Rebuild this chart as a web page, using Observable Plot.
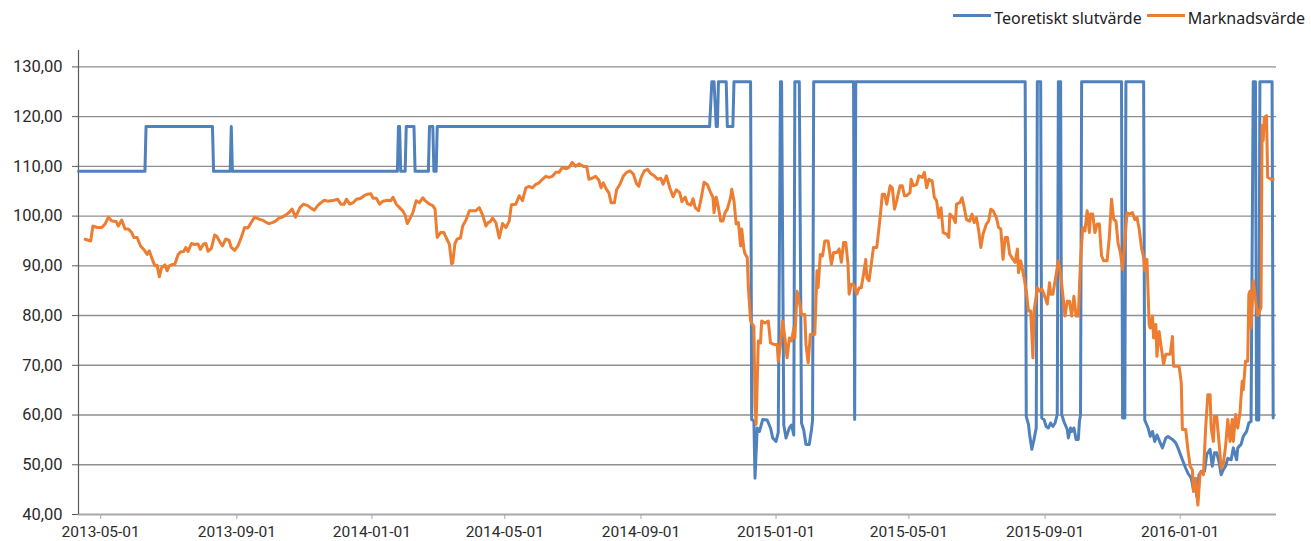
<!DOCTYPE html>
<html>
<head>
<meta charset="utf-8">
<script src="https://cdn.jsdelivr.net/npm/d3@7"></script>
<script src="https://cdn.jsdelivr.net/npm/@observablehq/plot@0.6"></script>
<style>
  html, body { margin: 0; padding: 0; background: #fff; }
  #wrap { width: 1311px; height: 541px; position: relative; overflow: hidden; }
  #legend { height: 30px; display: flex; justify-content: flex-end; align-items: center; padding-right: 6px;
            font-family: "Noto Sans", "Open Sans", sans-serif; font-size: 16px; color: #222; box-sizing: border-box; padding-top: 6px; }
  .sw { display: inline-block; width: 38px; height: 3px; margin-right: 3px; position: relative; top: -3px; }
  .item { display: flex; align-items: center; margin-left: 5px; white-space: nowrap; }
</style>
</head>
<body>
<div id="wrap">
  <div id="legend"></div>
  <div id="chart"></div>
</div>
<script>
const seriesNames = ["Teoretiskt slutvärde", "Marknadsvärde"];
const seriesColors = ["#4f81bd", "#ed7d31"];
const xTickDates = ["2013-05-01","2013-09-01","2014-01-01","2014-05-01","2014-09-01","2015-01-01","2015-05-01","2015-09-01","2016-01-01"];
const yTicks = [40, 50, 60, 70, 80, 90, 100, 110, 120, 130];
const xDomain = ["2013-04-11", "2016-03-28"];
const yDomain = [40, 133.3];

const teoretisktSlutvarde = [
["2013-04-11",109],["2013-06-10",109],["2013-06-11",118],["2013-08-10",118],["2013-08-11",109],["2013-08-26",109],["2013-08-27",118],["2013-08-28",109],
["2014-01-24",109],["2014-01-25",118],["2014-01-26",118],["2014-01-27",109],["2014-01-31",109],["2014-02-01",118],["2014-02-08",118],["2014-02-09",109],
["2014-02-21",109],["2014-02-22",118],["2014-02-25",118],["2014-02-26",109],["2014-02-28",109],["2014-03-01",118],
["2014-11-02",118],["2014-11-04",127],["2014-11-06",127],["2014-11-08",118],["2014-11-09",118],["2014-11-10",127],["2014-11-17",127],["2014-11-18",118],
["2014-11-23",118],["2014-11-24",127],["2014-12-09",127],["2014-12-10",59.1],["2014-12-12",58.8],["2014-12-13",47.3],["2014-12-15",57.4],["2014-12-17",56.7],
["2014-12-20",59.1],["2014-12-24",59.0],["2014-12-27",57.4],["2014-12-29",55.4],["2015-01-01",54.7],["2015-01-03",56.5],["2015-01-05",127],["2015-01-06",127],
["2015-01-08",58],["2015-01-10",55.4],["2015-01-13",57.4],["2015-01-15",58],["2015-01-17",56],["2015-01-18",127],["2015-01-22",127],["2015-01-24",58.4],
["2015-01-26",57],["2015-01-28",54.1],["2015-01-31",54.1],["2015-02-02",57],["2015-02-03",59],["2015-02-04",127],["2015-03-12",127],["2015-03-13",59.1],
["2015-03-14",127],["2015-08-14",127],["2015-08-15",59.7],["2015-08-17",58.1],["2015-08-18",56.1],["2015-08-20",53.1],["2015-08-22",55.1],["2015-08-24",57.4],
["2015-08-25",127],["2015-08-28",127],["2015-08-29",59.4],["2015-08-31",59.1],["2015-09-02",57.7],["2015-09-04",57.4],["2015-09-06",58.4],["2015-09-08",57.7],
["2015-09-10",58.4],["2015-09-12",60.1],["2015-09-13",127],["2015-09-15",127],["2015-09-16",60.1],["2015-09-18",58.7],["2015-09-21",57.1],["2015-09-22",55.4],
["2015-09-24",57.4],["2015-09-25",56.7],["2015-09-27",57.4],["2015-09-29",55.1],["2015-10-01",55.1],["2015-10-02",58.7],["2015-10-03",60],["2015-10-04",127],
["2015-11-09",127],["2015-11-10",59.4],["2015-11-12",59.4],["2015-11-13",127],["2015-11-29",127],["2015-11-30",59],["2015-12-03",57.4],["2015-12-05",55.7],
["2015-12-07",56.7],["2015-12-09",54.7],["2015-12-11",56],["2015-12-14",54.4],["2015-12-16",53.4],["2015-12-19",55.4],["2015-12-21",55.7],["2015-12-25",55.1],
["2015-12-28",54.4],["2015-12-30",53.4],["2016-01-03",51],["2016-01-06",49.3],["2016-01-08",48.3],["2016-01-11",47.3],["2016-01-13",45],["2016-01-15",46],
["2016-01-16",43.6],["2016-01-18",48],["2016-01-20",48.7],["2016-01-23",48.7],["2016-01-25",52.1],["2016-01-28",53.1],["2016-01-30",49.7],["2016-02-01",52.4],
["2016-02-03",52.4],["2016-02-05",50.7],["2016-02-07",48],["2016-02-09",49],["2016-02-11",49.7],["2016-02-13",51.3],["2016-02-16",51],["2016-02-18",53.4],
["2016-02-21",51],["2016-02-22",53.4],["2016-02-25",54.1],["2016-02-27",55.7],["2016-03-01",56.7],["2016-03-03",58.4],["2016-03-05",58.7],["2016-03-07",127],
["2016-03-09",127],["2016-03-10",59],["2016-03-12",59],["2016-03-13",127],["2016-03-24",127],["2016-03-25",59.4]
];

const marknadsvarde = [
["2013-04-17",95.35],["2013-04-22",95.0],["2013-04-24",98.0],["2013-04-28",97.7],["2013-05-02",97.7],["2013-05-05",98.4],["2013-05-08",99.8],["2013-05-11",99.0],
["2013-05-15",98.9],["2013-05-17",98.0],["2013-05-20",99.2],["2013-05-23",97.4],["2013-05-26",97.4],["2013-05-29",96.7],["2013-05-31",95.7],["2013-06-03",95.7],
["2013-06-06",94.0],["2013-06-09",93.3],["2013-06-12",92.3],["2013-06-14",93.0],["2013-06-16",91.7],["2013-06-19",90.0],["2013-06-21",90.1],["2013-06-23",87.8],
["2013-06-25",89.6],["2013-06-28",90.2],["2013-06-30",89.0],["2013-07-02",90.0],["2013-07-04",90.2],["2013-07-07",90.3],["2013-07-10",92.3],["2013-07-12",92.8],
["2013-07-15",92.9],["2013-07-17",93.7],["2013-07-19",92.9],["2013-07-22",94.5],["2013-07-25",94.3],["2013-07-28",94.4],["2013-07-30",93.3],["2013-08-02",94.4],
["2013-08-04",94.5],["2013-08-06",92.9],["2013-08-09",93.5],["2013-08-12",96.2],["2013-08-14",95.9],["2013-08-17",94.7],["2013-08-19",94.0],["2013-08-22",95.4],
["2013-08-25",95.1],["2013-08-27",93.7],["2013-08-30",93.1],["2013-09-02",94.0],["2013-09-05",95.7],["2013-09-08",97.7],["2013-09-11",97.6],["2013-09-14",98.7],
["2013-09-17",99.8],["2013-09-21",99.4],["2013-09-24",99.2],["2013-09-27",98.8],["2013-09-30",98.5],["2013-10-03",98.7],["2013-10-06",99.0],["2013-10-09",99.6],
["2013-10-12",99.8],["2013-10-15",100.2],["2013-10-18",100.7],["2013-10-21",101.4],["2013-10-24",99.8],["2013-10-28",101.7],["2013-10-31",102.4],["2013-11-04",102.1],
["2013-11-07",101.6],["2013-11-10",101.2],["2013-11-13",102.1],["2013-11-16",102.7],["2013-11-19",103.2],["2013-11-22",103.0],["2013-11-25",103.1],["2013-11-28",103.2],
["2013-12-01",103.4],["2013-12-04",102.4],["2013-12-07",102.4],["2013-12-09",103.4],["2013-12-12",102.4],["2013-12-15",102.7],["2013-12-18",103.4],["2013-12-22",103.6],
["2013-12-25",104.1],["2013-12-28",104.4],["2013-12-31",104.5],["2014-01-02",103.6],["2014-01-05",103.6],["2014-01-08",102.4],["2014-01-11",103.0],["2014-01-15",103.2],
["2014-01-18",103.1],["2014-01-20",103.8],["2014-01-23",102.4],["2014-01-26",101.7],["2014-01-29",101.0],["2014-01-31",100.2],["2014-02-02",98.5],["2014-02-05",99.8],
["2014-02-07",100.7],["2014-02-10",103.1],["2014-02-13",102.7],["2014-02-16",103.7],["2014-02-18",103.1],["2014-02-22",102.4],["2014-02-25",102.1],["2014-02-27",101.4],
["2014-03-01",95.7],["2014-03-04",96.7],["2014-03-07",96.7],["2014-03-09",95.7],["2014-03-12",94.3],["2014-03-14",90.4],["2014-03-15",90.6],["2014-03-17",94.5],
["2014-03-19",95.4],["2014-03-22",95.6],["2014-03-24",98.0],["2014-03-27",99.2],["2014-03-30",101.1],["2014-04-02",101.1],["2014-04-05",101.1],["2014-04-08",101.7],
["2014-04-11",100.2],["2014-04-14",98.0],["2014-04-16",98.7],["2014-04-18",98.9],["2014-04-20",99.6],["2014-04-23",98.7],["2014-04-26",95.6],["2014-04-29",98.5],
["2014-05-02",97.7],["2014-05-05",99.0],["2014-05-07",102.3],["2014-05-11",102.4],["2014-05-14",104.1],["2014-05-17",103.1],["2014-05-20",105.7],["2014-05-23",106.0],
["2014-05-26",105.7],["2014-05-29",106.4],["2014-06-01",106.7],["2014-06-04",107.4],["2014-06-07",108.0],["2014-06-10",107.8],["2014-06-13",108.0],["2014-06-16",108.8],
["2014-06-19",108.8],["2014-06-22",109.8],["2014-06-25",109.5],["2014-06-28",109.8],["2014-07-01",110.8],["2014-07-04",110.0],["2014-07-07",110.5],["2014-07-11",110.0],
["2014-07-14",110.0],["2014-07-16",107.4],["2014-07-19",107.6],["2014-07-22",108.0],["2014-07-25",107.2],["2014-07-27",105.7],["2014-07-29",106.7],["2014-08-01",105.3],
["2014-08-03",104.7],["2014-08-05",102.7],["2014-08-08",102.7],["2014-08-10",105.3],["2014-08-13",106.4],["2014-08-16",108.0],["2014-08-19",108.8],["2014-08-22",109.1],
["2014-08-25",108.5],["2014-08-28",106.5],["2014-08-30",106.0],["2014-09-01",107.7],["2014-09-04",109.1],["2014-09-07",109.4],["2014-09-10",108.5],["2014-09-13",108.1],
["2014-09-16",107.4],["2014-09-19",107.6],["2014-09-21",106.4],["2014-09-24",108.1],["2014-09-27",105.7],["2014-09-30",103.9],["2014-10-03",105.3],["2014-10-06",104.7],
["2014-10-08",102.9],["2014-10-11",103.8],["2014-10-13",102.5],["2014-10-16",102.2],["2014-10-18",103.5],["2014-10-20",101.7],["2014-10-23",101.1],["2014-10-25",103.1],
["2014-10-28",106.8],["2014-10-31",106.3],["2014-11-03",104.7],["2014-11-05",103.8],["2014-11-06",100.7],["2014-11-08",103.8],["2014-11-10",101.7],["2014-11-12",99.0],
["2014-11-14",99.0],["2014-11-16",100.7],["2014-11-18",101.4],["2014-11-21",103.8],["2014-11-22",105.4],["2014-11-24",103.1],["2014-11-26",98.4],["2014-11-28",98.7],
["2014-11-30",94.0],["2014-12-01",97.4],["2014-12-03",93.3],["2014-12-04",92.4],["2014-12-06",91.7],["2014-12-07",85.6],["2014-12-09",79.0],["2014-12-10",78.5],
["2014-12-12",77.8],["2014-12-13",62.0],["2014-12-14",58.1],["2014-12-16",74.9],["2014-12-18",74.5],["2014-12-19",78.9],["2014-12-22",78.5],["2014-12-25",78.9],
["2014-12-27",74.5],["2014-12-30",74.2],["2015-01-02",74.2],["2015-01-03",70.8],["2015-01-05",74.2],["2015-01-07",78.9],["2015-01-09",75.5],["2015-01-11",71.5],
["2015-01-13",75.5],["2015-01-15",74.9],["2015-01-17",77.5],["2015-01-18",75.5],["2015-01-20",84.9],["2015-01-22",82.9],["2015-01-24",80.2],["2015-01-27",80.2],
["2015-01-28",74.2],["2015-01-30",70.5],["2015-02-01",76.2],["2015-02-03",76.2],["2015-02-05",76.2],["2015-02-07",89.0],["2015-02-08",85.6],["2015-02-10",92.3],
["2015-02-12",92.0],["2015-02-14",95.0],["2015-02-17",95.0],["2015-02-20",90.3],["2015-02-22",92.7],["2015-02-25",92.7],["2015-02-27",93.4],["2015-03-01",90.7],
["2015-03-03",94.7],["2015-03-05",94.7],["2015-03-07",90.3],["2015-03-08",84.3],["2015-03-10",86.3],["2015-03-12",86.3],["2015-03-15",84.3],["2015-03-17",85.6],
["2015-03-19",85.6],["2015-03-21",88.3],["2015-03-23",91.3],["2015-03-24",87.6],["2015-03-26",87.0],["2015-03-28",90.3],["2015-03-30",93.7],["2015-04-02",93.7],
["2015-04-05",99.7],["2015-04-07",104.4],["2015-04-09",104.4],["2015-04-11",102.4],["2015-04-14",106.1],["2015-04-16",105.7],["2015-04-18",101.4],["2015-04-20",103.1],
["2015-04-23",106.1],["2015-04-25",106.1],["2015-04-27",104.1],["2015-04-29",104.1],["2015-05-02",104.7],["2015-05-03",107.4],["2015-05-05",106.1],["2015-05-08",106.4],
["2015-05-10",108.1],["2015-05-13",107.8],["2015-05-15",108.8],["2015-05-17",105.7],["2015-05-19",107.4],["2015-05-22",107.1],["2015-05-24",103.7],["2015-05-26",103.1],
["2015-05-28",99.7],["2015-05-30",101.7],["2015-06-01",96.7],["2015-06-04",96.4],["2015-06-06",95.7],["2015-06-07",100.4],["2015-06-10",99.7],["2015-06-12",98.7],
["2015-06-13",102.4],["2015-06-16",102.7],["2015-06-18",103.7],["2015-06-20",101.7],["2015-06-22",99.3],["2015-06-25",99.0],["2015-06-27",100.4],["2015-06-29",98.7],
["2015-07-01",99.7],["2015-07-03",97.1],["2015-07-05",93.7],["2015-07-07",96.4],["2015-07-10",98.4],["2015-07-12",99.0],["2015-07-14",101.4],["2015-07-16",101.1],
["2015-07-19",99.7],["2015-07-21",97.7],["2015-07-23",97.4],["2015-07-25",91.3],["2015-07-27",95.7],["2015-07-29",95.7],["2015-07-31",92.4],["2015-08-03",91.3],
["2015-08-05",90.7],["2015-08-07",93.4],["2015-08-08",88.6],["2015-08-10",91.0],["2015-08-13",87.6],["2015-08-15",84.9],["2015-08-17",80.9],["2015-08-19",80.9],
["2015-08-21",71.5],["2015-08-22",80.9],["2015-08-25",85.6],["2015-08-27",84.9],["2015-08-29",85.3],["2015-08-31",84.3],["2015-09-03",82.3],["2015-09-05",86.6],
["2015-09-06",84.3],["2015-09-08",84.3],["2015-09-11",88.3],["2015-09-13",91.0],["2015-09-15",88.3],["2015-09-17",84.3],["2015-09-19",79.9],["2015-09-21",82.9],
["2015-09-23",82.9],["2015-09-25",79.9],["2015-09-27",83.9],["2015-09-29",79.9],["2015-10-01",79.9],["2015-10-03",91.0],["2015-10-05",97.7],["2015-10-07",97.0],
["2015-10-09",101.1],["2015-10-11",96.7],["2015-10-12",100.4],["2015-10-14",100.4],["2015-10-16",96.7],["2015-10-18",98.4],["2015-10-20",98.4],["2015-10-22",92.0],
["2015-10-24",91.0],["2015-10-27",91.0],["2015-10-29",95.7],["2015-10-31",103.4],["2015-11-02",99.3],["2015-11-04",99.0],["2015-11-06",94.4],["2015-11-08",92.7],
["2015-11-10",89.3],["2015-11-12",95.0],["2015-11-14",100.7],["2015-11-16",100.4],["2015-11-19",100.7],["2015-11-21",99.3],["2015-11-23",99.7],["2015-11-25",97.4],
["2015-11-27",93.7],["2015-11-29",91.7],["2015-11-30",89.0],["2015-12-02",91.3],["2015-12-04",78.2],["2015-12-05",77.5],["2015-12-07",79.9],["2015-12-08",75.5],
["2015-12-10",78.2],["2015-12-11",71.8],["2015-12-13",76.8],["2015-12-15",73.5],["2015-12-17",70.2],["2015-12-19",72.2],["2015-12-21",72.2],["2015-12-23",72.2],
["2015-12-25",75.8],["2015-12-26",69.8],["2015-12-28",69.8],["2015-12-31",69.8],["2016-01-02",66.5],["2016-01-03",57.1],["2016-01-06",57.1],["2016-01-08",53.0],
["2016-01-10",49.7],["2016-01-12",49.0],["2016-01-13",44.6],["2016-01-15",47.3],["2016-01-16",44.3],["2016-01-17",41.9],["2016-01-19",48.3],["2016-01-21",48.7],
["2016-01-22",48.0],["2016-01-24",57.4],["2016-01-26",64.1],["2016-01-28",64.1],["2016-01-29",57.4],["2016-01-31",54.7],["2016-02-01",59.7],["2016-02-03",59.7],
["2016-02-05",54.7],["2016-02-07",49.3],["2016-02-09",50.3],["2016-02-11",53.7],["2016-02-13",59.1],["2016-02-15",54.7],["2016-02-17",59.1],["2016-02-18",54.7],
["2016-02-20",60.1],["2016-02-22",57.4],["2016-02-24",60.4],["2016-02-26",66.8],["2016-02-27",65.1],["2016-02-29",70.8],["2016-03-02",70.8],["2016-03-03",84.3],
["2016-03-04",84.9],["2016-03-05",77.5],["2016-03-07",87.0],["2016-03-11",80.0],["2016-03-14",81.6],["2016-03-15",118.2],["2016-03-16",115.2],["2016-03-17",119.9],
["2016-03-19",120.2],["2016-03-20",107.8],["2016-03-23",107.4],["2016-03-25",107.4]
];

const parse = d3.utcParse("%Y-%m-%d");
const toRows = (arr, name) => arr.map(([d, v]) => ({date: parse(d), value: v, series: name}));
const rowsBlue = toRows(teoretisktSlutvarde, seriesNames[0]);
const rowsOrange = toRows(marknadsvarde, seriesNames[1]);
const fmtY = v => v.toFixed(2).replace(".", ",");

// Legend
const legend = document.getElementById("legend");
seriesNames.forEach((name, i) => {
  const item = document.createElement("div");
  item.className = "item";
  const sw = document.createElement("span");
  sw.className = "sw";
  sw.style.background = seriesColors[i];
  item.appendChild(sw);
  item.appendChild(document.createTextNode(name));
  legend.appendChild(item);
});

const chart = Plot.plot({
  width: 1311,
  height: 511,
  marginTop: 20,
  marginBottom: 27,
  marginLeft: 78,
  marginRight: 35,
  style: {fontFamily: "Roboto, sans-serif", fontSize: "15.5px", color: "#2b2b2b", background: "#fff", overflow: "visible"},
  x: {type: "utc", domain: xDomain.map(parse)},
  y: {domain: yDomain},
  marks: [
    Plot.gridY(yTicks.filter(v => v > 40), {stroke: "#8f8f8f", strokeOpacity: 1, strokeWidth: 1.4}),
    Plot.ruleY([40], {stroke: "#a8a8a8", strokeWidth: 2.2}),
    Plot.ruleX([parse(xDomain[0])], {stroke: "#5a5a5a", strokeWidth: 1.2}),
    Plot.axisY({ticks: yTicks, tickFormat: fmtY, tickSize: 6, tickPadding: 10, label: null, stroke: "#5a5a5a", fill: "#2b2b2b", fontSize: 16.5}),
    Plot.axisX({ticks: xTickDates.map(parse), tickFormat: d3.utcFormat("%Y-%m-%d"), tickSize: 5, tickPadding: 6, label: null, stroke: "#a8a8a8", fill: "#2b2b2b"}),
    Plot.line(rowsBlue, {x: "date", y: "value", stroke: seriesColors[0], strokeWidth: 3, strokeLinejoin: "round", strokeLinecap: "round"}),
    Plot.line(rowsOrange, {x: "date", y: "value", stroke: seriesColors[1], strokeWidth: 3, strokeLinejoin: "round", strokeLinecap: "round"})
  ]
});
document.getElementById("chart").appendChild(chart);
</script>
</body>
</html>
